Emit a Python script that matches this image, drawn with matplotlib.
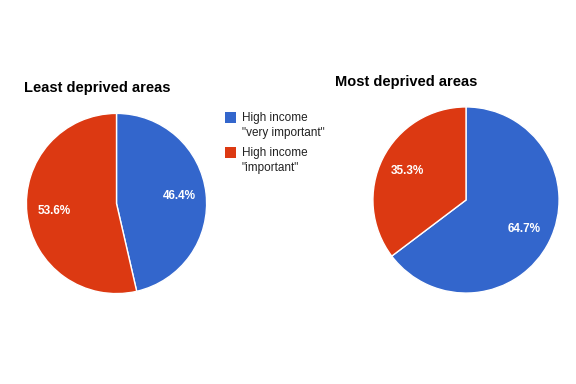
import matplotlib.pyplot as plt
from matplotlib.patches import Rectangle

plt.rcParams['font.family'] = ['Liberation Sans', 'DejaVu Sans']

# Dados
categorias = ['High income\n"very important"', 'High income\n"important"']
menos_privados = [46.4, 53.6]
mais_privados = [64.7, 35.3]
cores = ['#3366CC', '#DC3912']

W, H = 576, 384
fig = plt.figure(figsize=(W / 100, H / 100), dpi=100)


def eixo_px(x, y_topo, lado):
    # converte caixa em pixels (origem no topo) para coordenadas da figura
    return fig.add_axes([x / W, (H - y_topo - lado) / H, lado / W, lado / H])


def desenha_pizza(ax, valores):
    fatias, _, textos = ax.pie(valores, colors=cores, startangle=90, counterclock=False,
                               autopct='%.1f%%', pctdistance=0.7,
                               wedgeprops=dict(edgecolor='white', linewidth=1))
    for t in textos:
        t.set_color('white')
        t.set_fontsize(8.5)
        t.set_fontweight('bold')
    ax.set_xlim(-1.01, 1.01)
    ax.set_ylim(-1.01, 1.01)
    ax.set_aspect('equal')
    return fatias


ax1 = eixo_px(25.5, 112.5, 182)
desenha_pizza(ax1, menos_privados)
ax2 = eixo_px(372, 106, 188)
desenha_pizza(ax2, mais_privados)

fig.text(24 / W, 1 - 92 / H, 'Least deprived areas', fontsize=10.5, fontweight='bold', color='black')
fig.text(335 / W, 1 - 86 / H, 'Most deprived areas', fontsize=10.5, fontweight='bold', color='black')

# Legenda manual (quadrado + duas linhas de texto)
for i, (cat, cor) in enumerate(zip(categorias, cores)):
    topo = 112 + i * 35
    fig.patches.append(Rectangle((225 / W, 1 - (topo + 11) / H), 11 / W, 11 / H,
                                 transform=fig.transFigure, facecolor=cor, edgecolor='none'))
    for j, linha in enumerate(cat.split('\n')):
        fig.text(242 / W, 1 - (topo + 9 + j * 15) / H, linha, fontsize=8.5,
                 color='#222222', va='baseline')

plt.savefig('out.png', dpi=100)
